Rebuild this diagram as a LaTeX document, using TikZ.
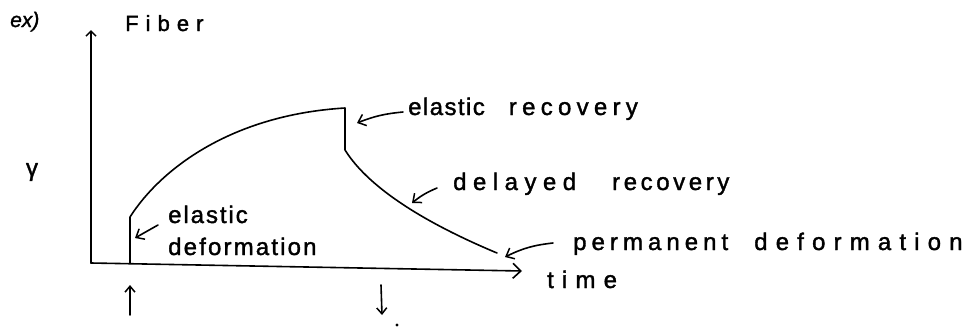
\documentclass[tikz,border=0pt]{standalone}
\usepackage{fontspec}
\setmainfont{Liberation Sans}
\usetikzlibrary{arrows.meta}
\tikzset{
  ink/.style={line width=1.6pt, line cap=round, line join=round},
  axis/.style={ink, -{Straight Barb[length=8pt,width=15pt,line width=1.6pt]}},
  pointer/.style={ink, -{Straight Barb[length=7pt,width=12pt,line width=1.5pt]}},
  marker/.style={ink, -{Straight Barb[length=6pt,width=10pt,line width=1.5pt]}},
  lbl/.style={anchor=base west, inner sep=0pt,
    font=\fontsize{24}{26}\selectfont\addfontfeature{FakeBold=1.5}},
}
% a word set with extra room between its letters
\newcommand{\spaced}[2]{{\addfontfeature{LetterSpace=#1}#2}}
\begin{document}
\begin{tikzpicture}[x=1pt, y=-1pt]
  \useasboundingbox (0,0) rectangle (965,327);

  % axes
  \coordinate (O) at (91,263);
  \coordinate (ytop) at (91,30);
  \coordinate (xend) at (522,271);
  \draw[ink, -{Straight Barb[length=5pt,width=10pt,line width=1.5pt]}] (O) -- (ytop);
  \draw[axis] (O) -- (xend);

  % strain curve: elastic jump, creep, elastic recovery, delayed recovery
  \coordinate (A) at (130,263);
  \coordinate (B) at (130,217);
  \coordinate (C) at (345,108);
  \coordinate (D) at (345,150);
  \coordinate (E) at (497,253);
  \draw[ink] (A) -- (B) .. controls (160,170) and (230,115) .. (C) -- (D)
             .. controls (370,190) and (430,225) .. (E);

  % labels
  \node[lbl, font=\fontsize{21}{23}\selectfont\itshape\addfontfeature{FakeBold=1.5}] (ex) at (10,27) {ex)};
  \node[lbl, font=\fontsize{22}{24}\selectfont\addfontfeature{FakeBold=1.5}] (fiber) at (125,31) {\spaced{32}{Fiber}};
  \node[inner sep=0pt, font=\fontsize{24}{26}\selectfont\addfontfeature{FakeBold=1.5}] (gam) at (32,172) {γ};
  \node[lbl] (el1) at (168,223) {\spaced{8}{elastic}};
  \node[lbl] (def1) at (168,255) {\spaced{9}{deformation}};
  \node[lbl] (elrec) at (408,115) {\spaced{6}{elastic}\hspace*{24pt}\spaced{22}{recovery}};
  \node[lbl] (delrec) at (453,190) {\spaced{27}{delayed}\hspace*{36pt}\spaced{15}{recovery}};
  \node[lbl] (perm) at (573,250) {\spaced{21}{permanent}\hspace*{26pt}\spaced{34}{deformation}};
  \node[lbl] (time) at (547,288) {\spaced{34}{time}};

  % pointers from the labels to the curve
  \coordinate (p1t) at (158,225);  \coordinate (p1h) at (135,238);
  \coordinate (p2t) at (403,112);  \coordinate (p2h) at (357,123);
  \coordinate (p3t) at (437,188);  \coordinate (p3h) at (412,203);
  \coordinate (p4t) at (553,243);  \coordinate (p4h) at (505,257);
  \draw[pointer] (p1t) -- (p1h);
  \draw[pointer] (p2t) to[bend right=8] (p2h);
  \draw[pointer] (p3t) to[bend right=8] (p3h);
  \draw[pointer] (p4t) to[bend right=10] (p4h);

  % load on / load off markers
  \coordinate (on0) at (130,315);  \coordinate (on1) at (130,285);
  \coordinate (off0) at (381,285); \coordinate (off1) at (382,315);
  \draw[marker] (on0) -- (on1);
  \draw[marker] (off0) -- (off1);
  \fill (397,325) circle (1.6pt);
\end{tikzpicture}
\end{document}
